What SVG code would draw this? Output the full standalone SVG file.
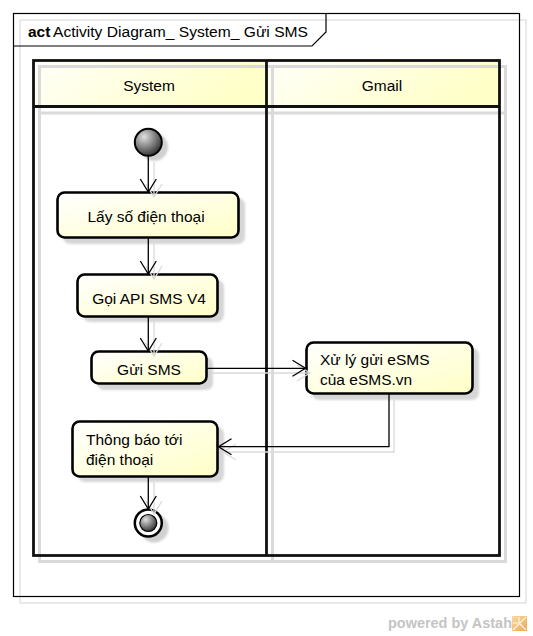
<svg xmlns="http://www.w3.org/2000/svg" width="533" height="636" viewBox="0 0 533 636">
<defs>
<linearGradient id="actFill" x1="0" y1="0" x2="1" y2="1">
<stop offset="0" stop-color="#FFFFFF"/>
<stop offset="1" stop-color="#FFFFC6"/>
</linearGradient>
<linearGradient id="hdrFill" x1="0" y1="0" x2="1" y2="0.3">
<stop offset="0" stop-color="#FFFFFA"/>
<stop offset="1" stop-color="#FFFFC8"/>
</linearGradient>
<radialGradient id="ballFill" cx="0.35" cy="0.3" r="0.8">
<stop offset="0" stop-color="#E0E0E0"/>
<stop offset="1" stop-color="#222222"/>
</radialGradient>
<linearGradient id="iconFill" x1="0" y1="0" x2="1" y2="1">
<stop offset="0" stop-color="#F9D9A0"/>
<stop offset="1" stop-color="#F0A850"/>
</linearGradient>
<filter id="blur" x="-20%" y="-20%" width="140%" height="140%">
<feGaussianBlur stdDeviation="1.2"/>
</filter>
<marker id="arrow" viewBox="-14 -9 16 18" refX="0" refY="0" markerWidth="16" markerHeight="18" markerUnits="userSpaceOnUse" orient="auto">
<path d="M-13,-8 L0,0 L-13,8" fill="none" stroke="#000" stroke-width="1.3"/>
</marker>
<marker id="arrowSh" viewBox="-14 -9 16 18" refX="0" refY="0" markerWidth="16" markerHeight="18" markerUnits="userSpaceOnUse" orient="auto">
<path d="M-13,-8 L0,0 L-13,8" fill="none" stroke="#DADADA" stroke-width="1.3"/>
</marker>
</defs>
<style>
text { font-family: "Liberation Sans", Arial, sans-serif; font-size: 15.5px; fill: #000; }
.act { fill: url(#actFill); stroke: #000; stroke-width: 2.6; }
.actSh { fill: #D6D6D6; filter: url(#blur); }
.lane { fill: none; stroke: #111; stroke-width: 2.8; }
.laneSh { fill: none; stroke: #DADADA; stroke-width: 3; }
.conn { fill: none; stroke: #000; stroke-width: 1.3; marker-end: url(#arrow); }
.connSh { fill: none; stroke: #DADADA; stroke-width: 1.3; marker-end: url(#arrowSh); }
.mid { text-anchor: middle; }
</style>

<rect x="0" y="0" width="533" height="636" fill="#FFFFFF"/>

<g id="frame">
<rect x="20" y="20" width="506" height="583" fill="none" stroke="#DDDDDD" stroke-width="1.2"/>
<rect x="13.5" y="13.5" width="506" height="583" fill="none" stroke="#000" stroke-width="1.2"/>
<path d="M13.5,46 L312,46 L326,32 L326,13.5" fill="none" stroke="#000" stroke-width="1.2"/>
<text x="28" y="37"><tspan font-weight="bold">act</tspan></text>
<text x="53" y="37" textLength="255" lengthAdjust="spacingAndGlyphs">Activity Diagram_ System_ Gửi SMS</text>
</g>

<g id="lanes">
<rect x="33" y="60" width="233" height="47" fill="url(#hdrFill)"/>
<rect x="266" y="60" width="234" height="47" fill="url(#hdrFill)"/>
<rect x="39.5" y="66.5" width="466" height="495" class="laneSh"/>
<line x1="39.5" y1="113" x2="505.5" y2="113" class="laneSh"/>
<line x1="272.5" y1="66.5" x2="272.5" y2="561.5" class="laneSh"/>
<rect x="33.5" y="60.5" width="466" height="495" class="lane"/>
<line x1="33.5" y1="106.5" x2="499.5" y2="106.5" class="lane"/>
<line x1="266.5" y1="60.5" x2="266.5" y2="555.5" class="lane"/>
<text x="149" y="91" class="mid">System</text>
<text x="382" y="91" class="mid">Gmail</text>
</g>

<g id="initial">
<circle cx="154" cy="147" r="14" fill="#D0D0D0" filter="url(#blur)"/>
<circle cx="148.3" cy="142.3" r="13.5" fill="url(#ballFill)" stroke="#000" stroke-width="2"/>
</g>

<g id="a1">
<rect x="63" y="198" width="182" height="46" rx="7" class="actSh"/>
<rect x="57.5" y="192.5" width="181" height="45" rx="7" class="act"/>
<text x="146" y="222" class="mid">Lấy số điện thoại</text>
</g>

<g id="a2">
<rect x="83" y="280" width="141" height="42" rx="7" class="actSh"/>
<rect x="77.5" y="274.5" width="140" height="42" rx="7" class="act"/>
<text x="149" y="304" class="mid">Gọi API SMS V4</text>
</g>

<g id="a3">
<rect x="97" y="357" width="116" height="33" rx="7" class="actSh"/>
<rect x="91.5" y="351.5" width="115" height="32" rx="7" class="act"/>
<text x="149" y="375" class="mid">Gửi SMS</text>
</g>

<g id="a4">
<rect x="312" y="348" width="167" height="52" rx="7" class="actSh"/>
<rect x="306.5" y="342.5" width="166" height="51" rx="7" class="act"/>
<text x="320" y="365">Xử lý gửi eSMS</text>
<text x="320" y="385">của eSMS.vn</text>
</g>

<g id="a5">
<rect x="78" y="427" width="146" height="55" rx="7" class="actSh"/>
<rect x="72.5" y="421.5" width="145" height="55" rx="7" class="act"/>
<text x="86" y="445">Thông báo tới</text>
<text x="86" y="465">điện thoại</text>
</g>

<g id="final">
<circle cx="154" cy="528" r="14.5" fill="#D0D0D0" filter="url(#blur)"/>
<circle cx="148.3" cy="523" r="13.5" fill="#FFFFFF" stroke="#000" stroke-width="2.5"/>
<circle cx="148.3" cy="523" r="8.5" fill="url(#ballFill)" stroke="#000" stroke-width="1.2"/>
</g>

<g id="connectors">
<path d="M154,162 L154,197" class="connSh"/>
<path d="M154,243 L154,279" class="connSh"/>
<path d="M154,321 L154,356" class="connSh"/>
<path d="M212,373 L310,373" class="connSh"/>
<path d="M394,399 L394,452 L223,452" class="connSh"/>
<path d="M154,482 L154,514" class="connSh"/>
<path d="M148.3,156 L148.3,192" class="conn"/>
<path d="M148.3,238 L148.3,274" class="conn"/>
<path d="M148.3,317 L148.3,351" class="conn"/>
<path d="M207,368.3 L305.5,368.3" class="conn"/>
<path d="M389,394 L389,446.7 L218.5,446.7" class="conn"/>
<path d="M148.3,477 L148.3,509" class="conn"/>
</g>

<g id="footer">
<text x="388" y="628" font-weight="bold" fill="#C4C4C4" style="fill:#C4C4C4;font-size:14.5px" textLength="124" lengthAdjust="spacingAndGlyphs">powered by Astah</text>
<rect x="512" y="616" width="15" height="15" fill="url(#iconFill)"/>
<path d="M513,630 L526,617 M519,617 L519,623 M520,624 L526,630 M513,623 L518,623" stroke="#FFFFFF" stroke-width="1.2" fill="none" opacity="0.85"/>
</g>
</svg>
